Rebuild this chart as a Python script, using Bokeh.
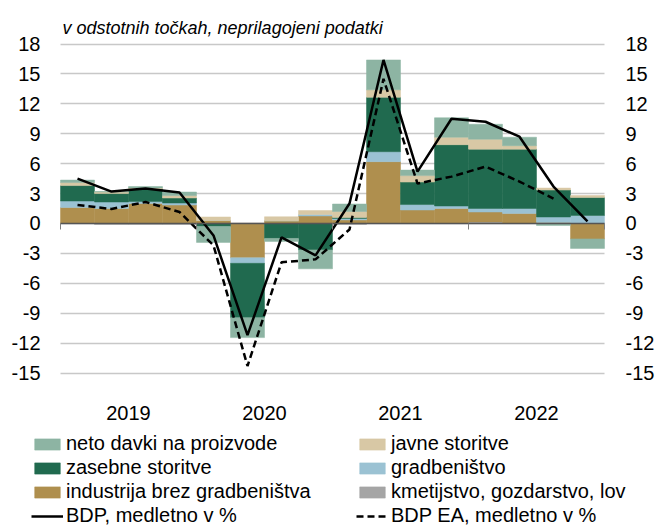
import numpy as np
from bokeh.plotting import figure
from bokeh.models import (Range1d, LinearAxis, FixedTicker, Legend, LegendItem,
                          Grid, Label)
from bokeh.embed import file_html
from bokeh.resources import INLINE

# ---------------- data ----------------
years = ["2019", "2020", "2021", "2022"]
quarters = [f"{y} Q{q}" for y in years for q in range(1, 5)]

kmetijstvo   = [0.0, -0.1, -0.1, -0.1, 0.0, 0.0, 0.0, 0.0, -0.1, 0.0, 0.0, 0.0, 0.15, 0.0, 0.0, 0.0]
industrija   = [1.6, 1.5, 2.0, 1.85, 0.3, -3.45, 0.27, 0.75, 0.35, 6.2, 1.35, 1.5, 1.0, 1.0, 0.1, -1.55]
gradbenistvo = [0.65, 0.65, 0.2, 0.2, 0.0, -0.55, 0.0, 0.15, 0.15, 1.0, 0.55, 0.25, 0.35, 0.5, 0.55, 0.8]
zasebne      = [1.55, 0.85, 1.25, 0.5, -0.3, -5.45, -1.5, -2.65, 0.1, 5.45, 2.25, 6.15, 5.95, 5.95, 2.7, 1.8]
javne        = [0.3, 0.15, 0.1, 0.25, 0.35, 0.0, 0.4, 0.4, 0.6, 0.75, 0.65, 0.75, 1.0, 0.35, 0.2, 0.2]
neto_davki   = [0.25, 0.05, 0.15, 0.35, -1.6, -2.0, -0.3, -1.9, 0.75, 3.0, 0.55, 1.95, 1.5, 0.85, -0.2, -0.95]

bdp    = [4.5, 3.2, 3.5, 3.1, -1.2, -11.2, -1.4, -3.2, 2.0, 16.4, 5.2, 10.5, 10.2, 8.7, 3.7, 0.2]
bdp_ea = [1.85, 1.45, 2.15, 1.15, -2.2, -14.3, -3.9, -3.6, -0.6, 14.5, 4.0, 4.7, 5.7, 4.2, 2.5]

y_ticks = list(range(-15, 19, 3))
y_labels = {t: str(t) for t in y_ticks}   # plain hyphen minus like the original

series = [
    ("kmetijstvo, gozdarstvo, lov", kmetijstvo, "#A5A5A5"),
    ("industrija brez gradbeništva", industrija, "#AF8F4E"),
    ("gradbeništvo", gradbenistvo, "#9BC2D3"),
    ("zasebne storitve", zasebne, "#206A4F"),
    ("javne storitve", javne, "#D8C8A5"),
    ("neto davki na proizvode", neto_davki, "#8DB4A3"),
]

TITLE = "v odstotnih točkah, neprilagojeni podatki"
FONT = "Liberation Sans"
N = len(quarters)

# the frame covers the whole canvas so that nothing (legend, labels) is clipped
PX_X = 34.0          # px per quarter
PX_Y = 9.97          # px per percentage point
W, H = 656, 527
LEFT_PX, TOP18_PX = 60, 43.5   # where the bar area starts / where 18 lies
x_lo = -LEFT_PX / PX_X
x_hi = x_lo + W / PX_X
y_hi = 18 + TOP18_PX / PX_Y
y_lo = y_hi - H / PX_Y

p = figure(width=W, height=H, x_range=Range1d(x_lo, x_hi),
           y_range=Range1d(y_lo, y_hi), output_backend="svg",
           toolbar_location=None, x_axis_location=None, y_axis_location=None,
           min_border_left=0, min_border_right=0, min_border_top=0,
           min_border_bottom=0)
p.outline_line_color = None
p.background_fill_color = "white"
p.border_fill_color = "white"
for g in p.grid:
    g.visible = False

# title (italic, top left)
p.add_layout(Label(x=x_lo + 62 / PX_X, y=y_hi - 27 / PX_Y, text=TITLE,
                   text_font=FONT, text_font_style="italic", text_font_size="18px",
                   text_color="#000000", text_baseline="middle",
                   text_align="left"))

# horizontal grid lines only over the bar area
grid = Grid(dimension=1, ticker=FixedTicker(ticks=y_ticks), cross_bounds=(0, N),
            grid_line_color="#C8C8C8", grid_line_width=1.3)
p.add_layout(grid)

# stacked bars (positive up, negative down)
x = np.arange(N) + 0.5
pos_base = np.zeros(N)
neg_base = np.zeros(N)
rend = {}
for name, vals, color in series:
    v = np.array(vals, dtype=float)
    bottom = np.where(v >= 0, pos_base, neg_base)
    top = bottom + v
    pos_base = np.where(v >= 0, top, pos_base)
    neg_base = np.where(v < 0, top, neg_base)
    rend[name] = p.vbar(x=x, bottom=bottom, top=top, width=1.0,
                        fill_color=color, line_color=color, line_width=0.5)

r_bdp = p.line(x[:len(bdp)], bdp, line_color="black", line_width=2.5)
r_ea = p.line(x[:len(bdp_ea)], bdp_ea, line_color="black", line_width=2.5,
              line_dash="7 4")

def style_value_axis(ax, standoff, tick_out=0):
    ax.axis_line_color = None
    ax.major_tick_line_color = None
    ax.minor_tick_line_color = None
    ax.major_tick_out = tick_out
    ax.major_tick_in = 0
    ax.major_label_text_font = FONT
    ax.major_label_text_font_size = "20px"
    ax.major_label_text_color = "#000000"
    ax.major_label_standoff = standoff

# left and right value axes, pinned to the edges of the bar area
ya = LinearAxis(ticker=FixedTicker(ticks=y_ticks), major_label_overrides=y_labels,
                fixed_location=0)
style_value_axis(ya, 20)
p.add_layout(ya, "left")

ra = LinearAxis(ticker=FixedTicker(ticks=y_ticks), major_label_overrides=y_labels,
                fixed_location=N)
style_value_axis(ra, 21)
p.add_layout(ra, "right")

# year labels under the bar area
year_pos = [4 * i + 2 for i in range(len(years))]
xa = LinearAxis(ticker=FixedTicker(ticks=year_pos), fixed_location=-15.15,
                major_label_overrides={pos: yr for pos, yr in zip(year_pos, years)})
style_value_axis(xa, 31)
p.add_layout(xa, "below")

# zero axis line with year-boundary ticks
za = LinearAxis(ticker=FixedTicker(ticks=[0, 4, 8, 12, 16]), fixed_location=0,
                bounds=(0, N))
za.axis_line_color = "#555555"
za.axis_line_width = 1.5
za.major_tick_line_color = "#7F7F7F"
za.major_tick_line_width = 1
za.major_tick_out = 6
za.major_tick_in = 0
za.minor_tick_line_color = None
za.major_label_text_font_size = "0px"
za.major_label_text_alpha = 0
p.add_layout(za, "below")

# legend in two columns
def make_legend(items, xloc):
    return Legend(items=items, location=(xloc, 0), orientation="vertical",
                  glyph_width=32, glyph_height=14, label_height=20, spacing=1,
                  padding=0, margin=0, label_standoff=3,
                  border_line_color=None, background_fill_alpha=0,
                  label_text_font=FONT, label_text_font_size="20px",
                  label_text_color="#000000")

col1 = ["neto davki na proizvode", "zasebne storitve", "industrija brez gradbeništva"]
col2 = ["javne storitve", "gradbeništvo", "kmetijstvo, gozdarstvo, lov"]
leg1 = make_legend([LegendItem(label=n, renderers=[rend[n]]) for n in col1]
                   + [LegendItem(label="BDP, medletno v %", renderers=[r_bdp])], 31)
leg2 = make_legend([LegendItem(label=n, renderers=[rend[n]]) for n in col2]
                   + [LegendItem(label="BDP EA, medletno v %", renderers=[r_ea])], 356)
p.add_layout(leg1)
p.add_layout(leg2)

open("out.html", "w").write(file_html(p, INLINE))
